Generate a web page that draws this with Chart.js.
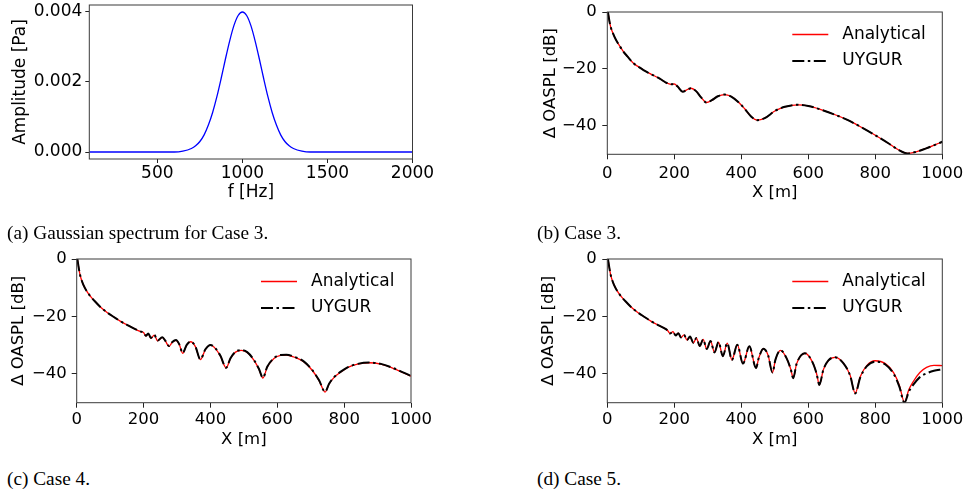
<!DOCTYPE html>
<html>

<head>
  <meta charset="utf-8">
  <title>Gaussian spectrum and OASPL decay, Cases 3-5</title>
  <script src="https://cdn.jsdelivr.net/npm/chart.js@4.4.1/dist/chart.umd.min.js"></script>
  <style>
    html,
    body {
      margin: 0;
      padding: 0;
      background: #fff;
    }

    body {
      position: relative;
      width: 971px;
      height: 493px;
      overflow: hidden;
    }

    canvas {
      position: absolute;
    }

    .cap {
      position: absolute;
      font-family: 'Liberation Serif', serif;
      font-size: 19.3px;
      line-height: 20px;
      color: #000;
      white-space: nowrap;
    }
  </style>
</head>

<body>
  <canvas id="figA" width="441" height="212" style="left:0;top:0"></canvas>
  <canvas id="figB" width="441" height="212" style="left:530px;top:0"></canvas>
  <canvas id="figC" width="441" height="215" style="left:0;top:240px"></canvas>
  <canvas id="figD" width="441" height="215" style="left:530px;top:240px"></canvas>

  <div class="cap" style="left:7px;top:223px">(a) Gaussian spectrum for Case 3.</div>
  <div class="cap" style="left:537px;top:223px">(b) Case 3.</div>
  <div class="cap" style="left:7px;top:469px">(c) Case 4.</div>
  <div class="cap" style="left:537px;top:469px">(d) Case 5.</div>

  <script>
    // (a) source spectrum
    const freqHz = [100, 600, 650, 700, 725, 750, 775, 800, 825, 850, 875, 900, 925, 950, 975, 1000,
      1025, 1050, 1075, 1100, 1125, 1150, 1175, 1200, 1225, 1250, 1275, 1300, 1350, 1400, 2000];
    const amplitudePa = [0, 0, 0.000025, 0.0001, 0.000176, 0.0003, 0.00049, 0.00077, 0.00113, 0.00158, 0.0021,
      0.00265, 0.00317, 0.00361, 0.0039, 0.004, 0.0039, 0.00361, 0.00317, 0.00265, 0.0021, 0.00158, 0.00113,
      0.00077, 0.00049, 0.0003, 0.000176, 0.0001, 0.000025, 0, 0];
    const ampTicks = [0, 0.002, 0.004];
    const freqTicks = [500, 1000, 1500, 2000];

    // shared distance / level ticks for the OASPL panels
    const distTicks = [0, 200, 400, 600, 800, 1000];
    const levelTicks = [-40, -20, 0];

    // (b) Case 3
    const caseB_x = [2, 6, 10, 18, 25, 33, 48, 60, 78, 95, 108, 125, 138, 150, 163, 175, 190, 200, 210, 225, 240,
      250, 265, 280, 296, 312, 330, 350, 370, 390, 410, 430, 448, 470, 500, 530, 570, 600, 640, 680, 720, 760,
      800, 840, 870, 895, 920, 950, 980, 1000];
    const caseB_analytical = [0, -3, -5.2, -7.8, -9.6, -11.2, -13.9, -15.6, -18, -19.4, -20.4, -21.5, -22.3, -23,
      -23.9, -24.8, -25.4, -25.3, -26.2, -28, -27.2, -26.8, -27.8, -30, -31.8, -31, -29.6, -29, -29.7, -31.5, -34,
      -36.8, -38, -37.3, -34.8, -33.3, -32.6, -33, -34.4, -36.1, -38.1, -40.6, -43.3, -46.2, -48.5, -49.7, -49.2,
      -48, -46.6, -45.6];
    const caseB_uygur = [0, -3, -5.2, -7.8, -9.6, -11.2, -13.9, -15.6, -18, -19.4, -20.4, -21.5, -22.3, -23,
      -23.9, -24.8, -25.4, -25.3, -26.2, -28, -27.2, -26.8, -27.8, -30, -31.8, -31, -29.6, -29, -29.7, -31.5, -34,
      -36.8, -38, -37.3, -34.8, -33.3, -32.6, -33, -34.4, -36.1, -38.1, -40.6, -43.3, -46.2, -48.5, -49.7, -49.2,
      -48, -46.6, -45.6];

    // (c) Case 4
    const caseC_x = [2, 6, 10, 15, 20, 30, 40, 55, 70, 90, 110, 130, 155, 175, 190, 200, 207, 214, 222, 232, 242,
      256, 266, 276, 286, 297, 307, 317, 329, 341, 355, 370, 385, 400, 415, 430, 447, 460, 475, 492, 510, 530,
      545, 557, 570, 590, 610, 627, 650, 680, 705, 725, 743, 755, 770, 790, 810, 840, 875, 910, 950, 1000];
    const caseC_analytical = [0, -3, -5.5, -7.5, -9, -11.2, -12.8, -14.8, -16.6, -18.5, -20.1, -21.6, -23.2,
      -24.4, -25.2, -25.6, -26.8, -26, -27.6, -26.5, -28.5, -27.3, -28.7, -30.4, -29, -28.3, -29.8, -32.8, -30,
      -28.8, -30.5, -35, -31.5, -30, -31.2, -33.8, -37.9, -34.6, -32.4, -31.8, -32.5, -35.2, -38.3, -41.4, -37.6,
      -34.6, -33.5, -33.4, -34.1, -35.8, -38.8, -42.3, -46.3, -43.5, -41.2, -39.3, -37.8, -36.6, -36.1, -36.6,
      -38.2, -40.8];
    const caseC_uygur = [0, -3, -5.5, -7.5, -9, -11.2, -12.8, -14.8, -16.6, -18.5, -20.1, -21.6, -23.2,
      -24.4, -25.2, -25.6, -26.7, -25.9, -27.5, -26.4, -28.4, -27.2, -28.6, -30.3, -28.9, -28.2, -29.7, -32.7, -29.9,
      -28.7, -30.4, -34.9, -31.4, -29.9, -31.1, -33.7, -37.8, -34.5, -32.3, -31.7, -32.4, -35.1, -38.2, -41.3, -37.5,
      -34.5, -33.4, -33.3, -34, -35.7, -38.7, -42.2, -46.2, -43.4, -41.1, -39.2, -37.7, -36.5, -36, -36.5,
      -38.1, -40.7];

    // (d) Case 5
    const caseD_x = [2, 6, 10, 15, 20, 30, 40, 55, 70, 90, 110, 130, 155, 175, 180, 188, 196, 204, 212, 220, 229,
      238, 247, 257, 266, 276, 286, 297, 308, 320, 332, 345, 358, 372, 388, 405, 424, 444, 452, 466, 480, 493,
      502, 517, 535, 548, 555, 565, 590, 612, 625, 633, 645, 660, 680, 705, 725, 740, 755, 775, 800, 830, 855,
      872, 887, 900, 913, 933, 953, 975, 1000];
    const caseD_analytical = [0, -3, -5.5, -7.5, -9, -11.2, -12.8, -14.8, -16.6, -18.5, -20.1, -21.6, -23.2,
      -24.4, -24.9, -25.9, -25.3, -26.6, -25.8, -27.3, -26.4, -28.2, -27, -29.2, -27.5, -30.3, -28, -31.3, -28.5,
      -32.5, -28.9, -33.8, -29.3, -35.1, -29.8, -36.4, -30.4, -37.9, -34.5, -31.2, -33.5, -39.5, -35, -31.8, -34.5,
      -38.5, -41.5, -36.5, -32.8, -35.8, -40, -43.8, -38.5, -35.3, -34.2, -36.2, -40.5, -46.7, -41, -37, -35.4,
      -36.4, -39.6, -44, -49.8, -45.5, -42.7, -39.5, -37.7, -37, -37.1];
    const caseD_uygur = [0, -3, -5.5, -7.5, -9, -11.2, -12.8, -14.8, -16.6, -18.5, -20.1, -21.6, -23.2,
      -24.4, -24.9, -25.9, -25.3, -26.6, -25.8, -27.3, -26.4, -28.2, -27, -29.2, -27.5, -30.3, -28, -31.3, -28.5,
      -32.5, -28.9, -33.8, -29.3, -35.1, -29.8, -36.4, -30.4, -37.9, -34.5, -31.2, -33.5, -39.5, -35, -31.8, -34.5,
      -38.5, -41.5, -36.5, -32.8, -35.8, -40, -43.8, -38.5, -35.3, -34.2, -36.3, -40.6, -46.8, -41.3, -37.3, -35.7,
      -36.7, -40, -44.5, -50, -46.2, -43.8, -41.1, -39.8, -38.9, -38.4];

    Chart.defaults.font.family = "'DejaVu Sans', sans-serif";
    Chart.defaults.font.size = 16.5;
    Chart.defaults.color = '#000';

    const pts = (xs, ys) => xs.map((x, i) => ({ x: x, y: ys[i] }));
    const minus = v => String(v).replace('-', '\u2212');

    // box round the plot area, on top of the curves
    const frame = {
      id: 'frame',
      afterDatasetsDraw(chart) {
        const a = chart.chartArea, ctx = chart.ctx;
        ctx.save();
        ctx.strokeStyle = '#3a3a3a';
        ctx.lineWidth = 1;
        ctx.strokeRect(a.left, a.top, a.right - a.left, a.bottom - a.top);
        ctx.restore();
      }
    };

    // legend drawn inside the upper right corner of the plot area
    const insideLegend = {
      id: 'insideLegend',
      afterDraw(chart) {
        const a = chart.chartArea, ctx = chart.ctx;
        ctx.save();
        ctx.font = "17px 'DejaVu Sans'";
        ctx.textBaseline = 'middle';
        chart.data.datasets.forEach((ds, i) => {
          const y = a.top + 22.5 + i * 26.5;
          ctx.strokeStyle = ds.borderColor;
          ctx.lineWidth = ds.borderWidth;
          ctx.setLineDash(ds.borderDash || []);
          ctx.beginPath();
          ctx.moveTo(a.right - 150, y);
          ctx.lineTo(a.right - 114, y);
          ctx.stroke();
          ctx.setLineDash([]);
          ctx.fillStyle = '#000';
          ctx.fillText(ds.label, a.right - 100, y);
        });
        ctx.restore();
      }
    };

    function panel(id, area, datasets, xs, ys, withLegend, fontSize) {
      const cv = document.getElementById(id);
      const W = cv.width, H = cv.height;
      const font = { size: fontSize || 16.5 };
      return new Chart(cv.getContext('2d'), {
        type: 'line',
        data: { datasets: datasets },
        plugins: withLegend ? [frame, insideLegend] : [frame],
        options: {
          responsive: false,
          animation: false,
          devicePixelRatio: 1,
          layout: { padding: { left: 0, top: area.top, right: W - area.right, bottom: 0 } },
          elements: {
            point: { radius: 0 },
            line: { cubicInterpolationMode: 'monotone', borderCapStyle: 'butt' }
          },
          plugins: { legend: { display: false }, tooltip: { enabled: false } },
          scales: {
            x: {
              type: 'linear',
              bounds: 'data',
              min: xs.min,
              max: xs.max,
              afterBuildTicks: s => { s.ticks = xs.ticks.map(v => ({ value: v })); },
              afterFit: s => { s.height = H - area.bottom; s.paddingLeft = 0; s.paddingRight = 0; },
              grid: { drawOnChartArea: false, drawTicks: true, tickLength: xs.tick, tickColor: '#222' },
              border: { display: false },
              ticks: { padding: xs.pad, maxRotation: 0, autoSkip: false, callback: xs.fmt, font: font },
              title: { display: true, text: xs.title, font: font, padding: { top: 0, bottom: xs.titlePad } }
            },
            y: {
              type: 'linear',
              bounds: 'data',
              min: ys.min,
              max: ys.max,
              afterBuildTicks: s => { s.ticks = ys.ticks.map(v => ({ value: v })); },
              afterFit: s => { s.width = area.left; s.paddingTop = 0; s.paddingBottom = 0; },
              grid: { drawOnChartArea: false, drawTicks: true, tickLength: ys.tick, tickColor: '#222' },
              border: { display: false },
              ticks: { padding: ys.pad, autoSkip: false, callback: ys.fmt, font: font },
              title: { display: true, text: ys.title, font: font, padding: { top: ys.titlePad, bottom: 0 } }
            }
          }
        }
      });
    }

    function oasplSets(xs, analytical, uygur) {
      return [
        { label: 'Analytical', data: pts(xs, analytical), borderColor: '#ff0000', borderWidth: 1.3, order: 1 },
        { label: 'UYGUR', data: pts(xs, uygur), borderColor: '#000000', borderWidth: 2, borderDash: [12, 3.5, 2.5, 3.5], order: 0 }
      ];
    }

    panel('figA', { left: 89.3, right: 412.5, top: 5, bottom: 159 },
      [{ label: 'Amplitude', data: pts(freqHz, amplitudePa), borderColor: '#0000ff', borderWidth: 1.3 }],
      { min: 100, max: 2000, ticks: freqTicks, fmt: v => String(v), title: 'f [Hz]', tick: 4, pad: 0, titlePad: 9 },
      { min: -0.0002, max: 0.0042, ticks: ampTicks, fmt: v => v.toFixed(3), title: 'Amplitude [Pa]', tick: 4, pad: 3, titlePad: 10 },
      false, 17);

    panel('figB', { left: 77.3, right: 412.3, top: 12, bottom: 154.3 },
      oasplSets(caseB_x, caseB_analytical, caseB_uygur),
      { min: 0, max: 1000, ticks: distTicks, fmt: v => String(v), title: 'X [m]', tick: 5, pad: 4.1, titlePad: 9.4 },
      { min: -50, max: 0, ticks: levelTicks, fmt: minus, title: '\u0394 OASPL [dB]', tick: 5, pad: 5.6, titlePad: 10.8 },
      true);

    panel('figC', { left: 76.7, right: 411, top: 19, bottom: 162.7 },
      oasplSets(caseC_x, caseC_analytical, caseC_uygur),
      { min: 0, max: 1000, ticks: distTicks, fmt: v => String(v), title: 'X [m]', tick: 5, pad: 2.4, titlePad: 5.1 },
      { min: -50, max: 0, ticks: levelTicks, fmt: minus, title: '\u0394 OASPL [dB]', tick: 5, pad: 5, titlePad: 9.1 },
      true);

    panel('figD', { left: 77.3, right: 412.3, top: 19, bottom: 162.7 },
      oasplSets(caseD_x, caseD_analytical, caseD_uygur),
      { min: 0, max: 1000, ticks: distTicks, fmt: v => String(v), title: 'X [m]', tick: 5, pad: 2.4, titlePad: 5.1 },
      { min: -50, max: 0, ticks: levelTicks, fmt: minus, title: '\u0394 OASPL [dB]', tick: 5, pad: 5.6, titlePad: 9.1 },
      true);
  </script>
</body>

</html>
